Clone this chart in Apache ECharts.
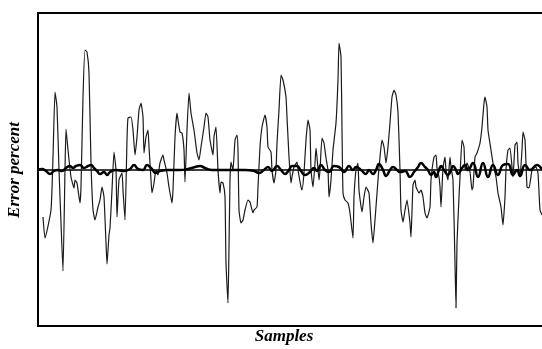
<!DOCTYPE html>
<html>
<head>
<meta charset="utf-8">
<script src="https://cdn.jsdelivr.net/npm/echarts@6/dist/echarts.min.js"></script>
<style>html,body{margin:0;padding:0;background:#fff}#c{width:542px;height:349px}</style>
</head>
<body>
<div id="c"></div>
<script>
// Thin series: measured error (sample index, value)
var thinSamples = [5,7,13,15,17,19,21,23,25,27,28,30,33,36,37,39,42,43,45,47,49,51,53,55,57,60,62,64,66,68,69,71,72,74,76,78,79,81,84,85,87,89,90,93,95,97,99,101,103,105,106,108,110,111,113,114,116,118,120,122,125,126,129,131,134,135,137,139,140,142,144,146,147,149,151,153,156,159,161,163,166,168,170,172,175,176,178,180,182,183,185,187,188,190,191,192,193,195,197,199,200,201,203,205,207,210,212,215,216,219,220,222,224,227,229,230,233,234,236,238,239,241,243,245,248,249,251,253,254,256,259,260,263,264,266,268,270,272,273,275,277,278,279,281,282,284,286,288,290,291,293,295,298,300,301,303,304,305,307,310,312,315,316,318,320,321,324,326,328,331,333,335,337,340,342,344,346,348,350,352,354,356,358,360,362,363,365,367,369,372,373,375,377,378,381,383,385,387,389,392,393,396,398,399,401,402,403,405,407,408,410,412,413,415,417,418,419,421,422,424,426,427,429,432,434,435,437,439,442,444,446,447,449,450,453,455,458,460,463,465,467,468,470,472,474,475,477,479,480,482,484,485,487,489,491,494,496,498,500,502,504];
var thinValues = [-47,-68,-40,13,78,63,0,-53,-101,0,41,20,-7,-18,-10,-13,-33,-17,73,120,118,97,7,-40,-50,-37,-30,-17,-27,-73,-94,-65,-58,-20,18,0,-47,-10,-3,-20,-50,30,52,53,40,15,33,60,67,53,17,33,40,23,-10,-23,-13,0,-5,7,15,10,-3,-17,-33,-20,33,57,50,38,37,20,-12,40,77,57,40,17,10,23,43,57,53,30,15,33,43,0,-23,-12,-13,-27,-93,-133,-77,-10,8,0,30,35,20,-40,-53,-50,-40,-30,-32,-43,-40,-37,-17,23,43,55,43,23,18,0,-13,0,27,60,95,90,73,53,13,-13,-7,3,8,0,-17,-20,-3,30,50,40,0,-17,7,22,13,-10,0,32,27,12,0,-27,-10,20,47,90,127,113,40,-23,-30,-33,-43,-68,-27,0,7,-20,-42,-27,-17,-23,-53,-73,-50,-10,13,30,23,7,23,47,73,80,75,58,0,-40,-52,-40,-30,-53,-67,-15,-10,-17,-23,-20,-27,-43,-48,-37,-10,13,15,2,-7,-17,-37,2,13,0,-10,13,3,-10,-93,-138,-73,-27,-7,30,23,0,7,-2,-20,-17,13,17,27,43,67,73,63,40,20,7,-7,-23,-37,-55,-27,0,20,22,3,-7,25,28,7,-7,20,38,30,-17,-18,0,2,3,-3,-40,-45];
// Thick series: model error (sample index, value)
var thickSamples = [0,4,8,12,16,20,24,28,32,35,38,42,46,50,53,56,59,62,66,69,72,78,86,92,96,100,105,109,113,118,122,130,142,150,157,162,167,174,192,207,216,221,226,230,234,239,243,247,251,254,259,263,267,272,276,279,283,287,291,296,301,306,311,315,318,323,328,331,335,338,341,345,348,352,355,359,362,367,372,376,380,383,387,390,393,396,398,401,403,406,410,413,415,418,420,424,427,430,435,440,445,450,455,460,465,470,475,479,482,487,492,499,504];
var thickValues = [0,1,-1,-4,-1,0,-1,2,4,2,4,5,2,4,5,2,-1,-4,-2,-5,-2,0,-1,1,5,1,0,5,2,-3,-1,0,0,1,3,4,2,0,0,0,-1,-3,0,3,-1,4,0,-4,0,4,4,-1,-5,-2,2,-1,5,0,-2,4,3,-2,4,0,3,0,-4,0,-4,0,6,0,-6,0,3,0,-2,-1,-7,-2,3,7,3,0,-5,-2,-7,0,4,0,-5,0,4,0,-4,2,5,0,7,-7,7,-7,5,-5,5,6,-5,0,-6,5,0,5,0];

function pairs(xs, ys){ return xs.map(function(x,i){ return [x, ys[i]]; }); }

var chart = echarts.init(document.getElementById('c'), null, {renderer:'canvas'});
chart.setOption({
  animation: false,
  backgroundColor: '#fff',
  grid: {left: 38, top: 13, width: 520, height: 313, outerBoundsMode: 'none', containLabel: false, show: true, borderColor: '#000', borderWidth: 2, backgroundColor: 'transparent'},
  xAxis: {type: 'value', min: 0, max: 520,
    axisLine: {show: true, onZero: true, lineStyle: {color: '#000', width: 1.5}},
    axisTick: {show: false}, axisLabel: {show: false}, splitLine: {show: false}},
  yAxis: {type: 'value', min: -156, max: 157,
    axisLine: {show: false}, axisTick: {show: false}, axisLabel: {show: false}, splitLine: {show: false}},
  series: [
    {type: 'line', data: pairs(thinSamples, thinValues), symbol: 'none', smooth: 0.15, lineStyle: {color: '#1a1a1a', width: 1.2}, z: 2},
    {type: 'line', data: pairs(thickSamples, thickValues), symbol: 'none', smooth: true, lineStyle: {color: '#000', width: 2.5}, z: 3}
  ],
  graphic: [
    {type: 'text', x: 284, y: 337, style: {text: 'Samples', font: 'italic bold 17px "Liberation Serif"', fill: '#000', textAlign: 'center', textVerticalAlign: 'middle'}},
    {type: 'text', x: 15, y: 170, rotation: Math.PI/2, style: {text: 'Error percent', font: 'italic bold 17px "Liberation Serif"', fill: '#000', textAlign: 'center', textVerticalAlign: 'middle'}}
  ]
});
</script>
</body>
</html>
